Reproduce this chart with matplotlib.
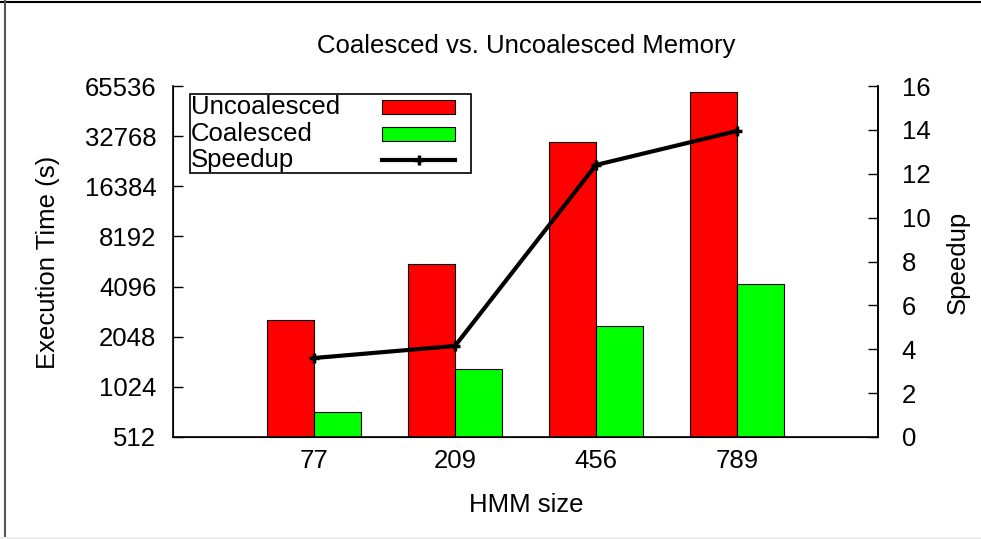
import matplotlib
matplotlib.use('Agg')
import matplotlib.pyplot as plt
import numpy as np
from matplotlib.lines import Line2D
from matplotlib.patches import Rectangle

# Values
hmm_sizes = ['77', '209', '456', '789']
uncoalesced = [2590, 5560, 30150, 60300]   # seconds
coalesced = [724, 1315, 2390, 4270]        # seconds
speedup = [3.6, 4.15, 12.4, 13.95]

log_ticks = [512, 1024, 2048, 4096, 8192, 16384, 32768, 65536]
speedup_ticks = [0, 2, 4, 6, 8, 10, 12, 14, 16]

plt.rcParams['font.family'] = ['Liberation Sans', 'DejaVu Sans']

FS = 18.5
W, H = 981, 539


def fx(px):
    return px / W


def fy(py):
    return 1 - py / H


fig = plt.figure(figsize=(W / 100, H / 100), dpi=100)
ax = fig.add_axes([fx(173), fy(437), 705 / W, 351 / H])

x = np.arange(len(hmm_sizes))
w = 1 / 3
ax.bar(x - w / 2, uncoalesced, w, color='#ff0000', edgecolor='black',
       linewidth=0.8, zorder=2)
ax.bar(x + w / 2, coalesced, w, color='#00ff00', edgecolor='black',
       linewidth=0.8, zorder=2)

ax.set_yscale('log', base=2)
ax.set_ylim(512, 65536)
ax.set_yticks(log_ticks)
ax.set_yticklabels([str(t) for t in log_ticks])
ax.yaxis.set_minor_locator(matplotlib.ticker.NullLocator())
ax.set_xlim(-1, 4)
ax.set_xticks(x)
ax.set_xticklabels(hmm_sizes)
ax.tick_params(axis='x', length=0, pad=9, labelsize=FS)
ax.tick_params(axis='y', direction='in', length=7, width=1, pad=12, labelsize=FS)
ax.spines['top'].set_visible(False)
for s in ['left', 'bottom', 'right']:
    ax.spines[s].set_linewidth(1.2)

ax2 = ax.twinx()
ax2.plot(x, speedup, color='black', linewidth=3, marker='+', markersize=7,
         markeredgewidth=2.5, zorder=3)
ax2.set_ylim(0, 16)
ax2.set_yticks(speedup_ticks)
ax2.tick_params(axis='y', direction='in', length=7, width=1, pad=17, labelsize=FS)
ax2.spines['top'].set_visible(False)
ax2.spines['right'].set_linewidth(1.2)

fig.text(fx(526), fy(46), 'Coalesced vs. Uncoalesced Memory',
         ha='center', va='center', fontsize=FS)
fig.text(fx(526), fy(505), 'HMM size', ha='center', va='center', fontsize=FS)
fig.text(fx(48), fy(262), 'Execution Time (s)', ha='center', va='center',
         rotation=90, fontsize=FS)
fig.text(fx(958), fy(262), 'Speedup', ha='center', va='center',
         rotation=90, fontsize=FS)

# legend box drawn by hand (text left, keys right, like gnuplot)
fig.add_artist(Rectangle((fx(190), fy(173)), fx(281), 79 / H, fill=True,
                         facecolor='white', edgecolor='black', linewidth=1.2,
                         transform=fig.transFigure, zorder=5))
labels = ['Uncoalesced', 'Coalesced', 'Speedup']
rows = [107, 134, 160]
for lab, ry in zip(labels, rows):
    fig.text(fx(191), fy(ry), lab, ha='left', va='center', fontsize=FS, zorder=6)
for col, ry in zip(['#ff0000', '#00ff00'], rows[:2]):
    fig.add_artist(Rectangle((fx(382), fy(ry + 7)), 73 / W, 14 / H,
                             facecolor=col, edgecolor='black', linewidth=0.8,
                             transform=fig.transFigure, zorder=6))
fig.add_artist(Line2D([fx(382), fx(455)], [fy(rows[2])] * 2, color='black',
                      linewidth=3, transform=fig.transFigure, zorder=6))
fig.add_artist(Line2D([fx(418.5)], [fy(rows[2])], color='black', marker='+',
                      markersize=7, markeredgewidth=2.5,
                      transform=fig.transFigure, zorder=7))

# outer frame of the original image
fig.add_artist(Line2D([0, 1], [fy(1.5)] * 2, color='black', linewidth=1.5,
                      transform=fig.transFigure))
fig.add_artist(Line2D([fx(5)] * 2, [0, 1], color='#555555', linewidth=1.5,
                      transform=fig.transFigure))
fig.add_artist(Line2D([0, 1], [fy(537.5)] * 2, color='#eeeeee', linewidth=1.5,
                      transform=fig.transFigure))

fig.savefig('out.png', dpi=100)
